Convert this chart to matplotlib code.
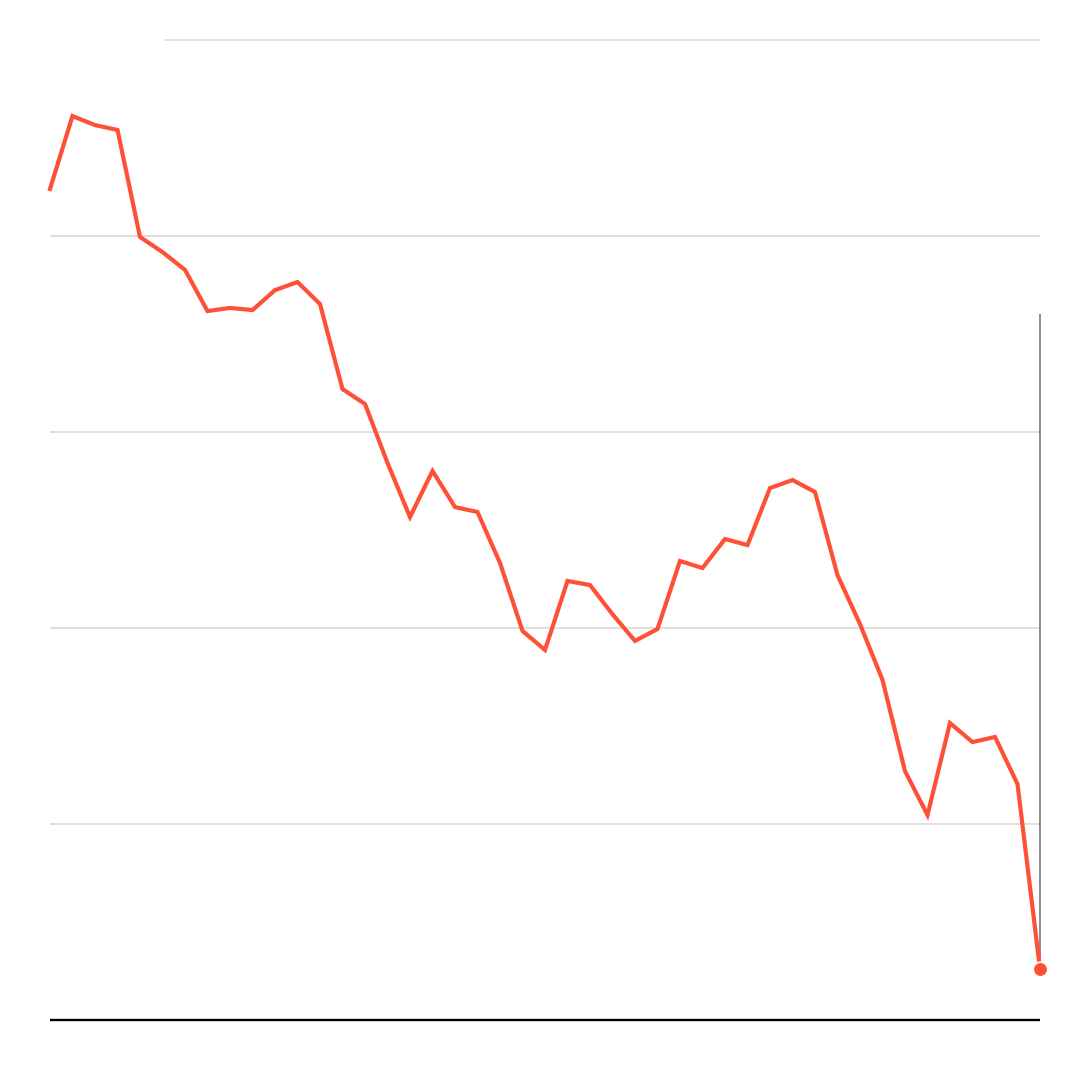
import matplotlib.pyplot as plt
import numpy as np

values = [4.240, 4.612, 4.566, 4.541, 3.995, 3.918, 3.827, 3.617, 3.633, 3.622,
          3.724, 3.765, 3.653, 3.219, 3.143, 2.842, 2.566, 2.801, 2.617, 2.592,
          2.332, 1.985, 1.888, 2.240, 2.219, 2.070, 1.934, 1.995, 2.342, 2.306,
          2.454, 2.423, 2.714, 2.755, 2.694, 2.270, 2.020, 1.735, 1.270, 1.046,
          1.515, 1.418, 1.444, 1.204, 0.260]
grid_levels = [1, 2, 3, 4, 5]
marker_top = 3.602

x = np.arange(len(values))
red = "#fe5036"

fig = plt.figure(figsize=(10.8, 10.8), dpi=100)
ax = fig.add_axes([50 / 1080, 60 / 1080, 990 / 1080, 980 / 1080])
ax.set_xlim(0, len(values) - 1)
ax.set_ylim(0, 5)
ax.axis("off")

for g in grid_levels:
    start = 5.07 if g == 5 else 0
    ax.plot([start, len(values) - 1], [g, g], color="#d9d9d9", lw=1.2, zorder=1,
            clip_on=False, solid_capstyle="butt")
ax.plot([0, len(values) - 1], [0, 0], color="black", lw=1.7, zorder=2,
        clip_on=False, solid_capstyle="butt")

ax.plot([x[-1], x[-1]], [values[-1], marker_top], color="#777777", lw=1.2,
        zorder=2, clip_on=False, solid_capstyle="butt")

ax.plot(x, values, color=red, lw=3.0, zorder=3, clip_on=False,
        solid_joinstyle="miter")
ax.scatter([x[-1]], [values[-1]], s=110, color=red, edgecolor="white",
           linewidth=1.2, zorder=4, clip_on=False)

fig.savefig("out.png", dpi=100)
